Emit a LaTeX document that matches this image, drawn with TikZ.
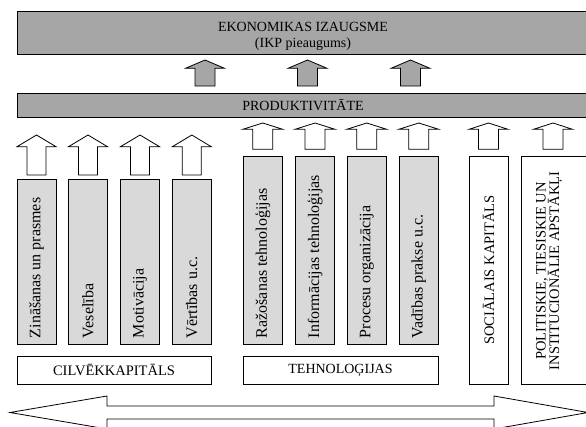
\documentclass[tikz,border=0pt]{standalone}
\usepackage{fontspec}
\setmainfont{Liberation Serif}
\definecolor{darkfill}{HTML}{A6A6A6}
\definecolor{lightfill}{HTML}{D9D9D9}
\newcommand{\blockup}[7]{% style, cx, tip, shoulder, bottom, head half width, shaft half width
  \draw[#1] ({#2-#7},#5) -- ({#2-#7},#4) -- ({#2-#6},#4) -- (#2,#3) -- ({#2+#6},#4) -- ({#2+#7},#4) -- ({#2+#7},#5) -- cycle;}
\begin{document}
\begin{tikzpicture}[x=1pt,y=-1pt,line width=0.8pt,
  box/.style={draw,inner sep=0pt,outer sep=0pt,anchor=north west},
  darkbox/.style={box,fill=darkfill},
  lightbox/.style={box,fill=lightfill},
  whitebox/.style={box,fill=white},
  toptext/.style={inner sep=0pt,font=\fontsize{14}{16}\selectfont},
  vlab/.style={rotate=90,anchor=west,inner sep=0pt,font=\fontsize{16}{18}\selectfont},
  vcap/.style={rotate=90,inner sep=0pt,align=center,font=\fontsize{14.5}{13.5}\selectfont},
  grayarrow/.style={draw,fill=darkfill},
  whitearrow/.style={draw,fill=white}]
\useasboundingbox (0,0) rectangle (586,426);
\clip (0,0) rectangle (586,426);

% top boxes
\node[darkbox,minimum width=590pt,minimum height=42.5pt] (growth) at (17,11.7) {};
\node[toptext] (growthA) at (303,27) {EKONOMIKAS IZAUGSME};
\node[toptext] (growthB) at (303,44) {(IKP pieaugums)};
\node[darkbox,minimum width=590pt,minimum height=24pt] (prod) at (17,93) {};
\node[toptext] (prodT) at (303,105.5) {PRODUKTIVITĀTE};

% gray arrows
\foreach \cx in {205,307.5,410.5} {\blockup{grayarrow}{\cx}{60}{68.3}{86}{19.5}{10}}

% human capital
\foreach \xx/\nm/\txt in {17/h1/{Zināšanas un prasmes},68.5/h2/{Veselība},120.5/h3/{Motivācija},172.3/h4/{Vērtības u.c.}} {
  \node[lightbox,minimum width=39pt,minimum height=165pt] (\nm) at (\xx,179) {};
  \node[vlab] (\nm t) at ({\xx+19.5},338.5) {\txt};
  \blockup{whitearrow}{\xx+19.5}{135}{146.7}{175}{19.5}{9.5}
}
\node[whitebox,minimum width=194pt,minimum height=28pt] (hc) at (17,356) {};
\node[inner sep=0pt,font=\fontsize{14.5}{16}\selectfont] (hcT) at (114,370) {CILVĒKKAPITĀLS};

% technologies
\foreach \xx/\nm/\txt in {243/t1/{Ražošanas tehnoloģijas},295.3/t2/{Informācijas tehnoloģijas},347/t3/{Procesu organizācija},399/t4/{Vadības prakse u.c.}} {
  \node[lightbox,minimum width=39.5pt,minimum height=188pt] (\nm) at (\xx,156) {};
  \node[vlab] (\nm t) at ({\xx+19.75},338.5) {\txt};
  \blockup{whitearrow}{\xx+19.75}{123}{129.3}{149.3}{20}{10}
}
\node[whitebox,minimum width=195pt,minimum height=28pt] (tech) at (243,356) {};
\node[inner sep=0pt,font=\fontsize{14}{16}\selectfont] (techT) at (340.5,370) {TEHNOLOĢIJAS};

% social capital and institutions
\node[whitebox,minimum width=39pt,minimum height=228pt] (soc) at (469,156) {};
\node[vcap] (socT) at (488.5,270) {SOCIĀLAIS KAPITĀLS};
\blockup{whitearrow}{488.5}{123}{129.3}{149.3}{19.5}{10}
\node[whitebox,minimum width=80pt,minimum height=228pt] (inst) at (521,156) {};
\node[vcap] (instT) at (549,271) {POLITISKIE, TIESISKIE UN\\INSTITUCIONĀLIE APSTĀKĻI};
\blockup{whitearrow}{553}{123}{129.3}{149.3}{19.5}{10}

% bottom double arrow
\draw[fill=white] (10,412.5) -- (107,396) -- (107,406) -- (494,406) -- (494,396) -- (588,412.5)
  -- (494,429) -- (494,419) -- (107,419) -- (107,429) -- cycle;
\end{tikzpicture}
\end{document}
